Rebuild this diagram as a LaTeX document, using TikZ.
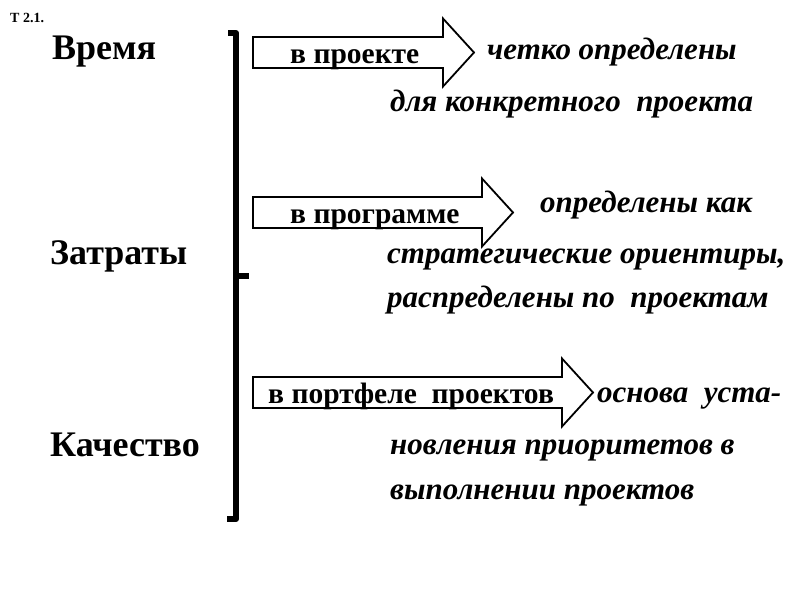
\documentclass[tikz,border=0pt]{standalone}
\usepackage{fontspec}
\setmainfont{Liberation Serif}[BoldFont={Liberation Serif Bold},ItalicFont={Liberation Serif Italic},BoldItalicFont={Liberation Serif Bold Italic}]
\begin{document}
\begin{tikzpicture}[x=1pt,y=-1pt,
  lbl/.style={anchor=base west,inner sep=0pt,font=\rmfamily\fontsize{36}{38}\selectfont\bfseries},
  desc/.style={anchor=base west,inner sep=0pt,font=\rmfamily\fontsize{31}{33}\selectfont\bfseries\itshape},
  arrlbl/.style={anchor=base west,inner sep=0pt,font=\rmfamily\fontsize{29.5}{31}\selectfont\bfseries},
  blockarrow/.style={draw=black,line width=1.8pt,fill=white,line join=miter},
  bracel/.style={line width=6pt,line join=round}]
\useasboundingbox (0,0) rectangle (800,600);
\newcommand\blockarr[4]{% left x, base x, tip x, center y
  \draw[blockarrow] (#1,#4-15.5) -- (#2,#4-15.5) -- (#2,#4-34) -- (#3,#4) -- (#2,#4+34) -- (#2,#4+15.5) -- (#1,#4+15.5) -- cycle;}
% title
\node[anchor=base west,inner sep=0pt,font=\rmfamily\fontsize{14}{16}\selectfont\bfseries] (t) at (10,22) {Т 2.1.};
% left labels
\node[lbl] (time) at (52,59) {Время};
\node[lbl] (cost) at (50,264) {Затраты};
\node[lbl] (qual) at (50,456) {Качество};
% brace
\draw[bracel] (228,33) -- (236,33) -- (236,519) -- (227,519);
\draw[bracel] (236,276) -- (249,276);
% arrows
\blockarr{253}{443}{474}{52.5}
\blockarr{253}{482}{513}{212.5}
\blockarr{253}{562}{593}{392.5}
\node[arrlbl] (a1) at (290,63) {в проекте};
\node[arrlbl] (a2) at (290,223) {в программе};
\node[arrlbl] (a3) at (268,403) {в портфеле\ \ проектов};
% descriptions
\node[desc] (d1) at (487,59) {четко определены};
\node[desc] (d2) at (390,111) {для конкретного\ \ проекта};
\node[desc] (d3) at (540,212) {определены как};
\node[desc] (d4) at (387,263) {стратегические ориентиры,};
\node[desc] (d5) at (387,307) {распределены по\ \ проектам};
\node[desc] (d6) at (597,402) {основа\ \ уста-};
\node[desc] (d7) at (390,454) {новления приоритетов в};
\node[desc] (d8) at (390,499) {выполнении проектов};
\end{tikzpicture}
\end{document}
